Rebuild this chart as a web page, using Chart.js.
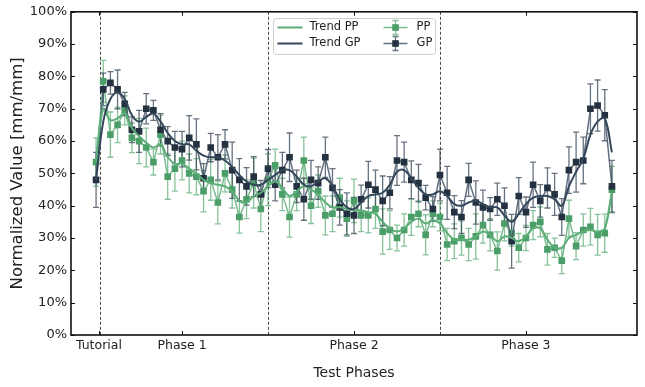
<!DOCTYPE html>
<html>
<head>
<meta charset="utf-8">
<script src="https://cdn.jsdelivr.net/npm/chart.js@4.4.0/dist/chart.umd.min.js"></script>
<style>
  html, body { margin: 0; padding: 0; background: #fff; }
</style>
</head>
<body>
<canvas id="phaseChart" width="645" height="387"></canvas>
<script>
// Session index (x) for each measurement: tutorial = 0, phases 1-3 follow
const sessions = Array.from({ length: 73 }, (_, i) => i);

// Phase ticks and boundaries (in session units)
const phaseNames = ["Tutorial", "Phase 1", "Phase 2", "Phase 3"];
const phaseTickAt = [0.4, 12, 36, 60];
const phaseBounds = [0.5, 24, 48];

// Measured values [%]
const ppValues = [53.5, 78.5, 62, 65, 69.5, 61, 60, 58, 53.5, 62, 49, 51.5, 54, 50, 49, 44.5,
  48, 41, 50, 45, 36.5, 42, 47, 39, 48, 52.5, 43.5, 36.5, 43.5, 54, 40, 44.5, 37, 37.5, 42.5, 36,
  41.5, 37, 37, 39, 32, 32.5, 30, 32.5, 36.5, 37.5, 31, 37.5, 36.5, 28, 29, 30, 28, 30.5, 34, 31,
  26, 34.5, 31.5, 27, 30, 34, 35, 26.5, 27, 23, 36, 27.5, 32.5, 33.5, 31, 31.5, 45];
const ppErr = [7.5, 6.5, 7, 5.5, 4.5, 4.6, 7, 6, 4, 6, 7, 7, 6, 6, 5.6, 6.4,
  6.3, 6.6, 5.7, 5.7, 5, 6, 7.7, 7, 8, 5, 5, 6.2, 5, 7.2, 5.5, 5, 6, 5.5, 6, 5.5,
  6.7, 5, 5.4, 6, 7, 6, 4, 5, 5.7, 4, 6.2, 4, 4.3, 5, 5.4, 5.3, 5, 7, 5.6, 5,
  5.9, 5.4, 4, 4.4, 3.9, 4.5, 4.6, 4.9, 3, 4, 5.7, 4.2, 5, 5.7, 6.3, 5.9, 7.2];
const ppTrend = [53.5, 70, 66.5, 67, 68.5, 64, 61.5, 59.5, 58, 59, 55, 53, 53, 51.5, 50, 48,
  47, 46.5, 46, 44.5, 41.5, 41, 43, 44, 46, 47.5, 45.5, 43, 44.5, 46, 45, 43.5, 41, 39.5, 39.5, 39,
  38.5, 38.5, 38, 37.5, 35, 33, 32, 33, 35, 36, 34.5, 35.5, 34.5, 31.5, 29.5, 29.5, 29.5, 30.5, 32, 31,
  29, 30.5, 30, 29, 30.5, 33, 33, 29.5, 27, 27, 30, 31, 32, 32.5, 32, 33, 44];

const gpValues = [48, 76, 78, 76, 71.5, 63.5, 63, 70, 69.5, 63.5, 60, 58, 57.5, 61, 59, 48.5,
  58, 55, 59, 51, 48, 46, 49, 43.5, 51.5, 46.5, 51, 55, 46, 42, 48, 47, 55, 45.5, 39.5, 37.5,
  37, 42, 46.5, 45, 41.5, 44, 54, 53.5, 48, 47, 42.5, 39, 49.5, 44, 38, 36.5, 48, 41, 39.5, 39,
  42, 40, 29, 43, 38, 46.5, 41.5, 45.5, 43.5, 36.5, 51, 53.5, 54, 70, 71, 68, 46];
const gpErr = [8.5, 5, 3.5, 6, 3.6, 4, 6.5, 4.7, 3.1, 5, 4.5, 5, 5.5, 6.9, 7.9, 4.5,
  4.4, 7, 4.5, 8.7, 6.6, 5.8, 6.2, 4.3, 5.9, 5, 5.5, 7.5, 5, 6.5, 6, 5, 6.2, 6, 5.5, 6.5,
  5.6, 4.4, 7.2, 6, 7.7, 5, 7.7, 6.2, 5.9, 5.8, 3.8, 3.8, 8, 8.2, 5.1, 5.1, 5.1, 6.7, 5.3, 3.5,
  5, 5.5, 8.3, 5.7, 4.7, 7, 5, 6.2, 6.5, 5.7, 7.2, 9.3, 7.2, 7.7, 7.9, 7.9, 8];
const gpTrend = [48, 66, 73, 75, 73, 68, 66, 67.5, 68.5, 66, 62.5, 60, 59, 59, 57, 55.5,
  55, 55, 54, 52, 49.5, 47.5, 46.5, 46.5, 48, 49.5, 51, 51, 49, 46.5, 46, 47.5, 48.5, 46, 42, 39.5,
  39, 41, 43, 43.5, 44, 46.5, 50.5, 51, 48.5, 45.5, 43.5, 43.5, 44.5, 43, 40.5, 40, 41, 41.5, 40.5, 39.5,
  39.5, 37, 35, 37.5, 40.5, 42.5, 43, 43, 42, 40, 46, 50.5, 54.5, 62, 66, 67, 56.5];

const yTicks = [0, 10, 20, 30, 40, 50, 60, 70, 80, 90, 100];

const FONT = "'DejaVu Sans', sans-serif";
const ppColor = '#4b9e68';
const gpColor = '#233140';

const toPoints = vals => sessions.map((s, i) => ({ x: s, y: vals[i] }));

const errorSeries = [
  { vals: ppValues, err: ppErr, color: 'rgba(86,168,112,0.7)' },
  { vals: gpValues, err: gpErr, color: 'rgba(44,60,78,0.72)' }
];

// dashed phase lines, error bars, frame, inward ticks and legend
const phaseDecor = {
  id: 'phaseDecor',
  beforeDatasetsDraw(chart) {
    const { ctx, chartArea: a, scales: { x, y } } = chart;
    ctx.save();
    ctx.strokeStyle = '#333';
    ctx.lineWidth = 0.9;
    ctx.setLineDash([3, 2]);
    phaseBounds.forEach(b => {
      const px = Math.round(x.getPixelForValue(b)) + 0.5;
      ctx.beginPath(); ctx.moveTo(px, a.top); ctx.lineTo(px, a.bottom); ctx.stroke();
    });
    ctx.setLineDash([]);
    ctx.lineWidth = 1.3;
    errorSeries.forEach(s => {
      ctx.strokeStyle = s.color;
      sessions.forEach((v, i) => {
        const px = x.getPixelForValue(v);
        const t = y.getPixelForValue(s.vals[i] + s.err[i]);
        const b = y.getPixelForValue(s.vals[i] - s.err[i]);
        ctx.beginPath();
        ctx.moveTo(px, t); ctx.lineTo(px, b);
        ctx.moveTo(px - 3, t); ctx.lineTo(px + 3, t);
        ctx.moveTo(px - 3, b); ctx.lineTo(px + 3, b);
        ctx.stroke();
      });
    });
    ctx.restore();
  },
  afterDraw(chart) {
    const { ctx, chartArea: a, scales: { x, y } } = chart;
    ctx.save();
    ctx.strokeStyle = '#111';
    ctx.lineWidth = 1.6;
    ctx.strokeRect(a.left, a.top, a.right - a.left, a.bottom - a.top);
    ctx.lineWidth = 1;
    y.ticks.forEach(t => {
      const py = Math.round(y.getPixelForValue(t.value)) + 0.5;
      ctx.beginPath();
      ctx.moveTo(a.left, py); ctx.lineTo(a.left + 4, py);
      ctx.moveTo(a.right, py); ctx.lineTo(a.right - 4, py);
      ctx.stroke();
    });
    x.ticks.forEach(t => {
      const px = Math.round(x.getPixelForValue(t.value)) + 0.5;
      ctx.beginPath();
      ctx.moveTo(px, a.bottom); ctx.lineTo(px, a.bottom - 4);
      ctx.moveTo(px, a.top); ctx.lineTo(px, a.top + 4);
      ctx.stroke();
    });

    // legend, two columns, upper centre
    const ds = chart.data.datasets;
    const bw = 162, bh = 36;
    const bx = Math.round((a.left + a.right) / 2 - bw / 2) + 0.5;
    const by = Math.round(a.top + 6) + 0.5;
    ctx.fillStyle = 'rgba(255,255,255,0.85)';
    ctx.strokeStyle = '#cfcfcf';
    ctx.beginPath();
    ctx.roundRect(bx, by, bw, bh, 3);
    ctx.fill(); ctx.stroke();
    ctx.font = '11.5px ' + FONT;
    ctx.textBaseline = 'middle';
    ctx.fillStyle = '#222';
    const rows = [by + 9, by + 25];
    [[2, 0], [3, 1]].forEach(([di, r]) => {
      ctx.strokeStyle = ds[di].borderColor;
      ctx.lineWidth = ds[di].borderWidth;
      ctx.beginPath(); ctx.moveTo(bx + 4, rows[r]); ctx.lineTo(bx + 29, rows[r]); ctx.stroke();
      ctx.fillText(ds[di].label, bx + 36, rows[r]);
    });
    [[0, 0], [1, 1]].forEach(([di, r]) => {
      const cy = rows[r], cx = bx + 122;
      ctx.strokeStyle = ds[di].borderColor;
      ctx.lineWidth = ds[di].borderWidth;
      ctx.beginPath(); ctx.moveTo(bx + 110, cy); ctx.lineTo(bx + 134, cy); ctx.stroke();
      ctx.strokeStyle = errorSeries[di].color;
      ctx.lineWidth = 1.3;
      ctx.beginPath();
      ctx.moveTo(cx, cy - 7); ctx.lineTo(cx, cy + 7);
      ctx.moveTo(cx - 3, cy - 7); ctx.lineTo(cx + 3, cy - 7);
      ctx.moveTo(cx - 3, cy + 7); ctx.lineTo(cx + 3, cy + 7);
      ctx.stroke();
      ctx.fillStyle = ds[di].pointBackgroundColor;
      ctx.fillRect(cx - 3.3, cy - 3.3, 6.6, 6.6);
      ctx.fillStyle = '#222';
      ctx.fillText(ds[di].label, bx + 143, cy);
    });
    ctx.restore();
  }
};

const config = {
  type: 'line',
  data: {
    datasets: [
      {
        label: 'PP', data: toPoints(ppValues), order: 3,
        borderColor: 'rgba(98,176,124,0.85)', borderWidth: 1.5,
        pointStyle: 'rect', pointRadius: 4.7, pointBorderWidth: 0,
        pointBackgroundColor: ppColor, tension: 0
      },
      {
        label: 'GP', data: toPoints(gpValues), order: 2,
        borderColor: 'rgba(70,86,106,0.85)', borderWidth: 1.5,
        pointStyle: 'rect', pointRadius: 4.7, pointBorderWidth: 0,
        pointBackgroundColor: gpColor, tension: 0
      },
      {
        label: 'Trend PP', data: toPoints(ppTrend), order: 1,
        borderColor: '#5aae76', borderWidth: 2, pointRadius: 0, tension: 0.4
      },
      {
        label: 'Trend GP', data: toPoints(gpTrend), order: 0,
        borderColor: '#34465a', borderWidth: 2, pointRadius: 0, tension: 0.4
      }
    ]
  },
  options: {
    responsive: false,
    animation: false,
    layout: { padding: { left: 0, right: 8, top: 11, bottom: 0 } },
    plugins: { legend: { display: false }, tooltip: { enabled: false } },
    scales: {
      x: {
        type: 'linear', min: -3.5, max: 75.5,
        grid: { display: false, drawTicks: false },
        border: { display: false },
        afterBuildTicks: s => { s.ticks = phaseTickAt.map(v => ({ value: v })); },
        afterFit: s => { s.height = 52; },
        ticks: {
          autoSkip: false, maxRotation: 0, padding: 3, color: '#222',
          font: { family: FONT, size: 12.5 },
          callback: (v, i) => phaseNames[i]
        },
        title: {
          display: true, text: 'Test Phases', color: '#222',
          font: { family: FONT, size: 14 }, padding: { top: 0, bottom: 5 }
        }
      },
      y: {
        min: 0, max: 100,
        grid: { display: false, drawTicks: false },
        border: { display: false },
        afterBuildTicks: s => { s.ticks = yTicks.map(v => ({ value: v })); },
        afterFit: s => { s.width = 71; },
        ticks: {
          padding: 4, color: '#222',
          font: { family: FONT, size: 13 },
          callback: v => v + '%'
        },
        title: {
          display: true, text: 'Normalized Value [mm/mm]', color: '#222',
          font: { family: FONT, size: 16.5 }, padding: { top: 8, bottom: 0 }
        }
      }
    }
  },
  plugins: [phaseDecor]
};

window.addEventListener('DOMContentLoaded', () => {
  new Chart(document.getElementById('phaseChart'), config);
});
</script>
</body>
</html>
